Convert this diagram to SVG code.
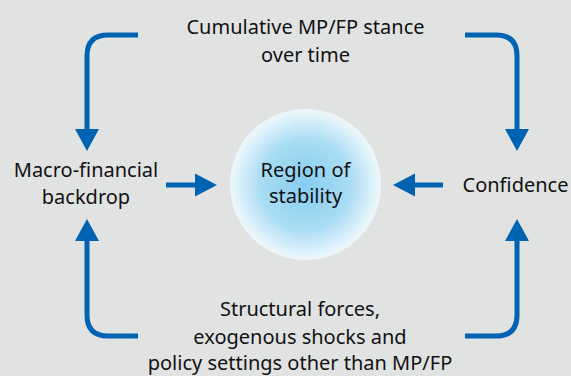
<svg xmlns="http://www.w3.org/2000/svg" width="571" height="376" viewBox="0 0 571 376">
<defs>
<style>
text{font-family:"Noto Sans","Open Sans",sans-serif;font-size:20px;fill:#111;text-anchor:middle}
.c{fill:none;stroke:#0063b1;stroke-width:5}
.h{fill:#0063b1}
</style>
<radialGradient id="g" cx="0.5" cy="0.5" r="0.5">
<stop offset="0" stop-color="#86cdef"/>
<stop offset="0.6" stop-color="#aadcf4"/>
<stop offset="0.92" stop-color="#e2f3fb"/>
<stop offset="1" stop-color="#eef7fb"/>
</radialGradient>
</defs>
<rect width="571" height="376" fill="#e1e3e3"/>
<g id="connectors">
<path class="c" d="M138 35H108Q87 35 87 56V131"/>
<polygon class="h" points="75,129 99,129 87,151"/>
<path class="c" d="M465 35H496Q517 35 517 56V131"/>
<polygon class="h" points="505,129 529,129 517,151"/>
<path class="c" d="M138 336H108Q87 336 87 315V239"/>
<polygon class="h" points="75,241 99,241 87,219"/>
<path class="c" d="M465 336H496Q517 336 517 315V239"/>
<polygon class="h" points="505,241 529,241 517,219"/>
<path class="c" d="M166 185H197"/>
<polygon class="h" points="195,173.5 195,196.5 217,185"/>
<path class="c" d="M443 185H413"/>
<polygon class="h" points="415,173.5 415,196.5 393,185"/>
</g>
<g id="region">
<circle cx="305.5" cy="184.5" r="75.5" fill="url(#g)"/>
<text x="305.5" y="176.5">Region of</text>
<text x="305.5" y="203">stability</text>
</g>
<g id="stance">
<text x="305.5" y="34">Cumulative MP/FP stance</text>
<text x="305.5" y="62">over time</text>
</g>
<g id="macro">
<text x="86" y="177">Macro-financial</text>
<text x="86" y="204">backdrop</text>
</g>
<g id="confidence">
<text x="515.5" y="192">Confidence</text>
</g>
<g id="structural">
<text x="300" y="316">Structural forces,</text>
<text x="300" y="343.5">exogenous shocks and</text>
<text x="300" y="370">policy settings other than MP/FP</text>
</g>
</svg>
